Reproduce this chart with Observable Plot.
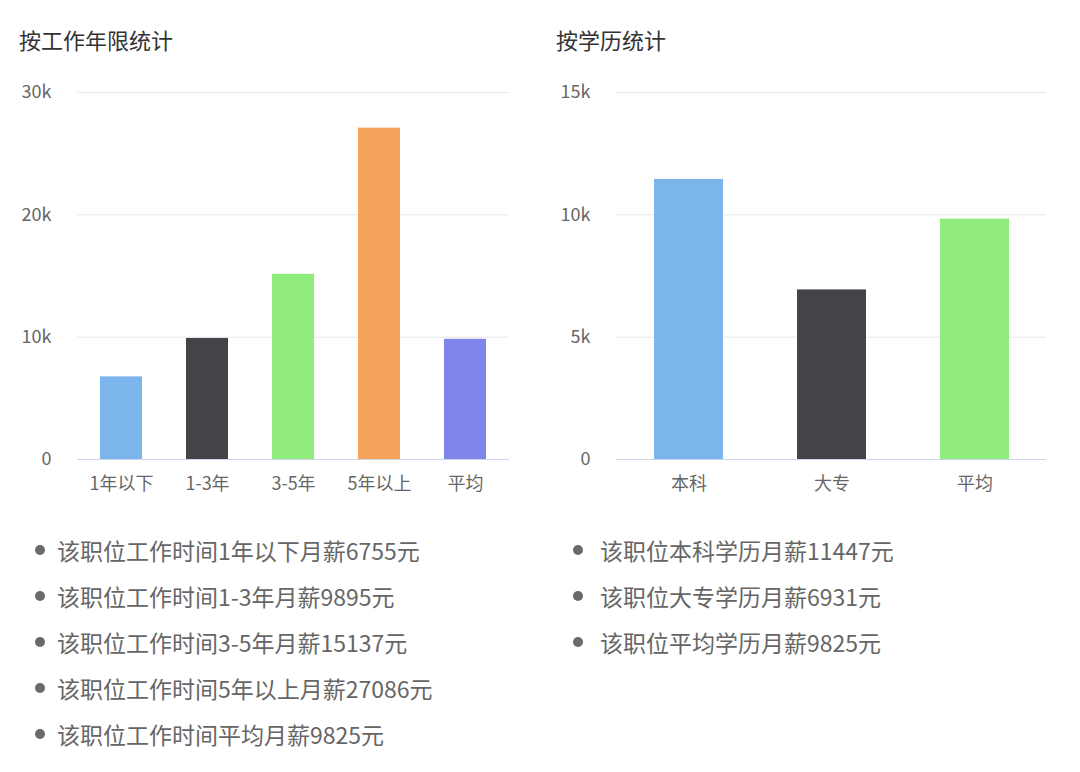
<!DOCTYPE html>
<html>
<head>
<meta charset="utf-8">
<script src="https://cdn.jsdelivr.net/npm/d3@7"></script>
<script src="https://cdn.jsdelivr.net/npm/@observablehq/plot@0.6"></script>
<style>
  body { margin: 0; background: #fff; font-family: "Noto Sans CJK SC", sans-serif; }
  #page { position: relative; width: 1080px; height: 772px; overflow: hidden; }
  .title { position: absolute; font-size: 22px; line-height: 26px; color: #333; top: 26px; }
  .chart { position: absolute; top: 72px; }
  .list { position: absolute; top: 527px; font-size: 23px; line-height: 46px; color: #666; }
  .item { display: flex; align-items: center; white-space: nowrap; }
  .dot { display: inline-block; width: 10px; height: 10px; border-radius: 50%; background: #6a6a6a; flex: none; }
</style>
</head>
<body>
<div id="page">
  <div class="title" style="left:19px">按工作年限统计</div>
  <div class="title" style="left:556px">按学历统计</div>
  <div class="chart" id="c1" style="left:0px"></div>
  <div class="chart" id="c2" style="left:540px"></div>
  <div class="list" id="l1" style="left:35px"></div>
  <div class="list" id="l2" style="left:573px"></div>
</div>
<script>
// Data
const yearCategories = ["1年以下", "1-3年", "3-5年", "5年以上", "平均"];
const yearSalaries = [6755, 9895, 15137, 27086, 9825];
const yearTicks = [0, 10000, 20000, 30000];

const eduCategories = ["本科", "大专", "平均"];
const eduSalaries = [11447, 6931, 9825];
const eduTicks = [0, 5000, 10000, 15000];

const palette = ["#7cb5ec", "#434348", "#90ed7d", "#f7a35c", "#8085e9"];

const fmtK = d => d === 0 ? "0" : (d / 1000) + "k";

function makeChart(cats, vals, ticks, opts) {
  const data = cats.map((c, i) => ({cat: c, value: vals[i]}));
  return Plot.plot({
    width: 540,
    height: 432,
    marginTop: 20,
    marginBottom: 45,
    marginLeft: opts.marginLeft,
    marginRight: opts.marginRight,
    style: {fontFamily: "Noto Sans CJK SC", fontSize: "18px", color: "#666", background: "transparent"},
    x: {domain: cats, paddingInner: opts.pad, paddingOuter: opts.pad / 2, label: null},
    y: {domain: [ticks[0], ticks[ticks.length - 1]], label: null},
    color: {domain: cats, range: palette.slice(0, cats.length)},
    marks: [
      Plot.gridY(ticks, {stroke: "#e6e6e6", strokeOpacity: 1}),
      Plot.barY(data, {x: "cat", y: "value", fill: "cat"}),
      Plot.ruleY([0], {stroke: "#ccd6eb", strokeWidth: 1}),
      Plot.axisY(ticks, {tickSize: 0, tickPadding: 26, tickFormat: fmtK, label: null}),
      Plot.axisX({tickSize: 0, tickPadding: 18, label: null})
    ]
  });
}

document.getElementById("c1").append(makeChart(yearCategories, yearSalaries, yearTicks, {marginLeft: 77, marginRight: 31, pad: 0.514}));
document.getElementById("c2").append(makeChart(eduCategories, eduSalaries, eduTicks, {marginLeft: 76, marginRight: 34, pad: 0.518}));

function makeList(el, texts, gap) {
  texts.forEach(t => {
    const row = document.createElement("div");
    row.className = "item";
    const dot = document.createElement("span");
    dot.className = "dot";
    dot.style.marginRight = gap + "px";
    const span = document.createElement("span");
    span.textContent = t;
    row.append(dot, span);
    el.append(row);
  });
}
makeList(document.getElementById("l1"), yearCategories.map((c, i) => `该职位工作时间${c}月薪${yearSalaries[i]}元`), 12);
makeList(document.getElementById("l2"), eduCategories.map((c, i) => `该职位${c}学历月薪${eduSalaries[i]}元`), 17);
</script>
</body>
</html>
